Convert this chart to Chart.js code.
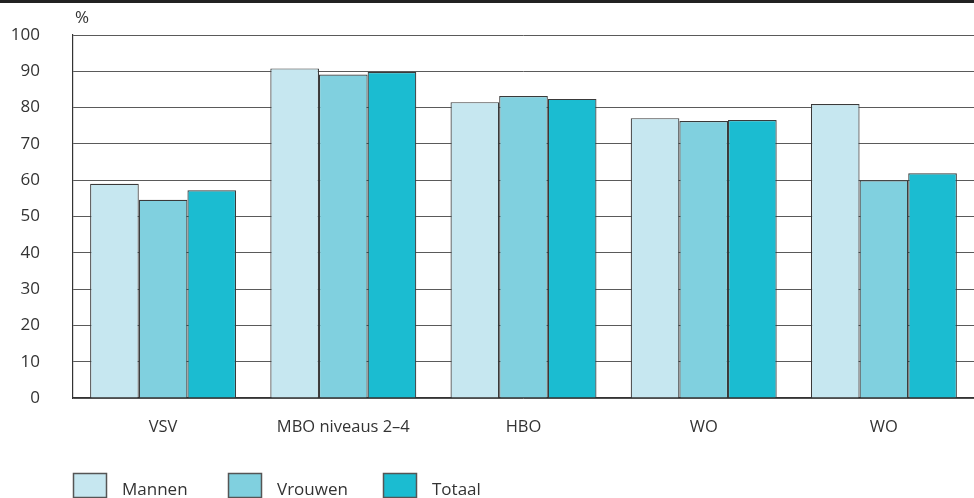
<!DOCTYPE html>
<html>
<head>
<meta charset="utf-8">
<script src="https://cdn.jsdelivr.net/npm/chart.js@4/dist/chart.umd.min.js"></script>
<style>
  html, body { margin: 0; padding: 0; background: #fff; }
  #wrap { width: 974px; height: 498px; position: relative; }
</style>
</head>
<body>
<div id="wrap"><canvas id="main"></canvas></div>
<script>
const categories = ["VSV", "MBO niveaus 2\u20134", "HBO", "WO", "WO"];
const mannen  = [59.0, 90.8, 81.5, 77.1, 81.0];
const vrouwen = [54.6, 89.1, 83.2, 76.3, 60.0];
const totaal  = [57.2, 89.8, 82.4, 76.6, 61.9];
const seriesNames = ["Mannen", "Vrouwen", "Totaal"];
const seriesColors = ["#c6e7f0", "#80d0df", "#1bbcd1"];

const FONT = "'Open Sans', 'Noto Sans', sans-serif";
const TEXT = "#333333";

// top rule, % label and the legend row
const extras = {
  id: "extras",
  afterDraw(chart) {
    const ctx = chart.ctx;
    ctx.save();
    ctx.fillStyle = "#222";
    ctx.fillRect(0, 0, chart.width, 3);

    ctx.fillStyle = TEXT;
    ctx.font = "17px " + FONT;
    ctx.textBaseline = "middle";
    ctx.textAlign = "left";
    ctx.fillText("%", 75, 18);

    chart.data.datasets.forEach((ds, i) => {
      const x = 73 + i * 155;
      ctx.fillStyle = ds.backgroundColor;
      ctx.fillRect(x, 473, 34, 24);
      ctx.strokeStyle = "#555";
      ctx.lineWidth = 1.5;
      ctx.strokeRect(x + 0.5, 473.5, 33, 24);
      ctx.fillStyle = TEXT;
      ctx.font = "17px " + FONT;
      ctx.fillText(ds.label, x + 49, 490);
    });
    ctx.restore();
  }
};

new Chart(document.getElementById("main"), {
  type: "bar",
  data: {
    labels: categories,
    datasets: [mannen, vrouwen, totaal].map((d, i) => ({
      label: seriesNames[i],
      data: d,
      backgroundColor: seriesColors[i],
      borderColor: "#3a3a3a",
      borderWidth: 1.2,
      categoryPercentage: 0.81,
      barPercentage: 1
    }))
  },
  options: {
    responsive: true,
    maintainAspectRatio: false,
    animation: false,
    layout: { padding: { top: 35, right: 0, left: 0, bottom: 0 } },
    plugins: { legend: { display: false }, tooltip: { enabled: false } },
    scales: {
      x: {
        grid: { display: false, drawTicks: false },
        border: { display: true, color: "#333", width: 1.2 },
        ticks: { color: TEXT, font: { family: FONT, size: 16.5 }, padding: 19 },
        afterFit(scale) { scale.height = 100; }
      },
      y: {
        min: 0,
        max: 100,
        grid: { color: "#5a5a5a", lineWidth: 1, drawTicks: false },
        border: { display: true, color: "#333", width: 1.2 },
        ticks: { stepSize: 10, color: TEXT, font: { family: FONT, size: 17 }, padding: 33 },
        afterFit(scale) {
          scale.width = 73;
          // tick padding otherwise pushes the plot top down
          scale.paddingTop = 0;
          scale.paddingBottom = 0;
        }
      }
    }
  },
  plugins: [extras]
});
</script>
</body>
</html>
